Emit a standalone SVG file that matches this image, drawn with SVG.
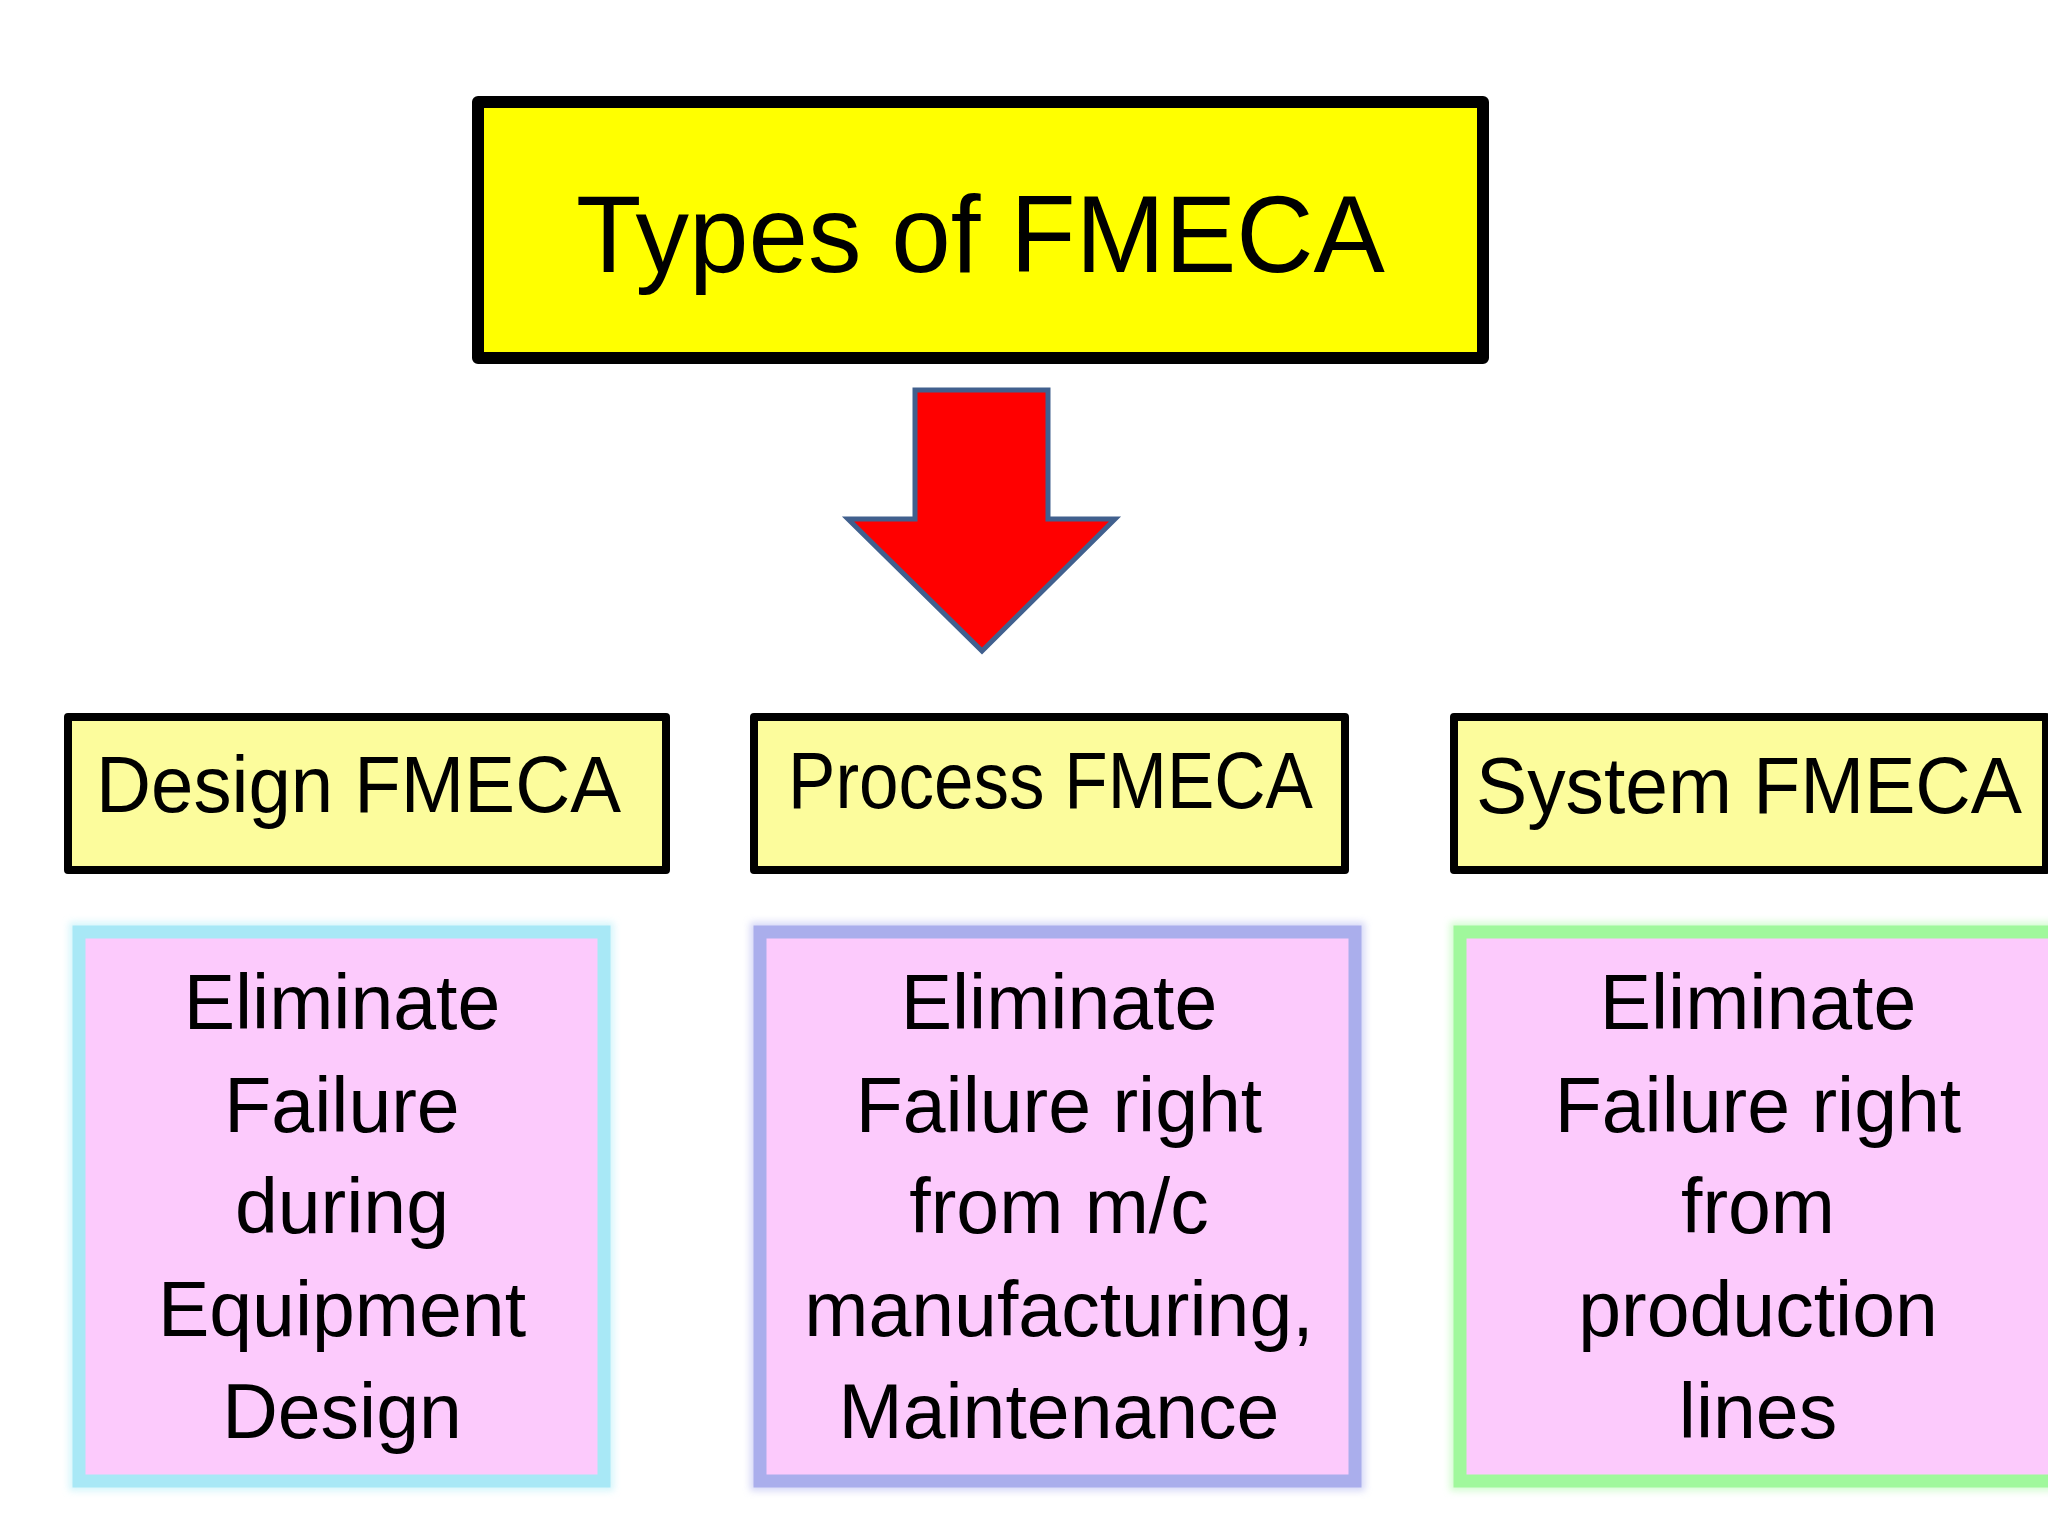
<svg xmlns="http://www.w3.org/2000/svg" width="2048" height="1536" viewBox="0 0 2048 1536">
  <defs>
    <filter id="glow" x="-10%" y="-10%" width="120%" height="120%">
      <feGaussianBlur stdDeviation="3.5"/>
    </filter>
  </defs>
  <style>
    text { font-family: "Liberation Sans", Arial, sans-serif; fill: #000; }
    .title { fill: #FFFF00; stroke: #000; stroke-width: 12; stroke-linejoin: round; }
    .hdr { fill: #FCFC9C; stroke: #000; stroke-width: 8; stroke-linejoin: round; }
    .hdrtxt { font-size: 80px; }
    .body { fill: #FCCAFC; stroke-width: 13; }
    .halo { fill: none; stroke-width: 20; opacity: 0.55; filter: url(#glow); }
    .bodytxt { font-size: 77px; text-anchor: middle; }
    .arrow { fill: #FF0000; stroke: #41608E; stroke-width: 5; stroke-linejoin: miter; }
  </style>
  <rect width="2048" height="1536" fill="#FFFFFF"/>

  <g id="title">
    <rect class="title" x="478" y="102" width="1005" height="256"/>
    <text x="576" y="272" font-size="110" textLength="809" lengthAdjust="spacingAndGlyphs">Types of FMECA</text>
  </g>

  <g id="connectors">
    <polygon class="arrow" points="915,390 1048,390 1048,519 1115,519 982,651 848,519 915,519"/>
  </g>

  <g id="design-fmeca">
    <rect class="hdr" x="68" y="717" width="598" height="153"/>
    <text class="hdrtxt" x="96" y="812" textLength="525" lengthAdjust="spacingAndGlyphs">Design FMECA</text>
  </g>
  <g id="process-fmeca">
    <rect class="hdr" x="754" y="717" width="591" height="153"/>
    <text class="hdrtxt" x="788" y="808" textLength="525" lengthAdjust="spacingAndGlyphs">Process FMECA</text>
  </g>
  <g id="system-fmeca">
    <rect class="hdr" x="1454" y="717" width="592" height="153"/>
    <text class="hdrtxt" x="1476" y="813" textLength="546" lengthAdjust="spacingAndGlyphs">System FMECA</text>
  </g>

  <g id="design-desc">
    <rect class="halo" x="79" y="932" width="525" height="549" stroke="#B4EEF8"/>
    <rect class="body" x="79" y="932" width="525" height="549" stroke="#A8E8F6"/>
    <text class="bodytxt" x="342" y="1029">Eliminate</text>
    <text class="bodytxt" x="342" y="1132">Failure</text>
    <text class="bodytxt" x="342" y="1233">during</text>
    <text class="bodytxt" x="342" y="1336">Equipment</text>
    <text class="bodytxt" x="342" y="1438">Design</text>
  </g>
  <g id="process-desc">
    <rect class="halo" x="760" y="932" width="595" height="549" stroke="#B4B8F0"/>
    <rect class="body" x="760" y="932" width="595" height="549" stroke="#AAAEEC"/>
    <text class="bodytxt" x="1059" y="1029">Eliminate</text>
    <text class="bodytxt" x="1059" y="1132">Failure right</text>
    <text class="bodytxt" x="1059" y="1233">from m/c</text>
    <text class="bodytxt" x="1059" y="1336">manufacturing,</text>
    <text class="bodytxt" x="1059" y="1438">Maintenance</text>
  </g>
  <g id="system-desc">
    <rect class="halo" x="1460" y="932" width="620" height="549" stroke="#B0FAAA"/>
    <rect class="body" x="1460" y="932" width="620" height="549" stroke="#A0F89C"/>
    <text class="bodytxt" x="1758" y="1029">Eliminate</text>
    <text class="bodytxt" x="1758" y="1132">Failure right</text>
    <text class="bodytxt" x="1758" y="1233">from</text>
    <text class="bodytxt" x="1758" y="1336">production</text>
    <text class="bodytxt" x="1758" y="1438">lines</text>
  </g>
</svg>
